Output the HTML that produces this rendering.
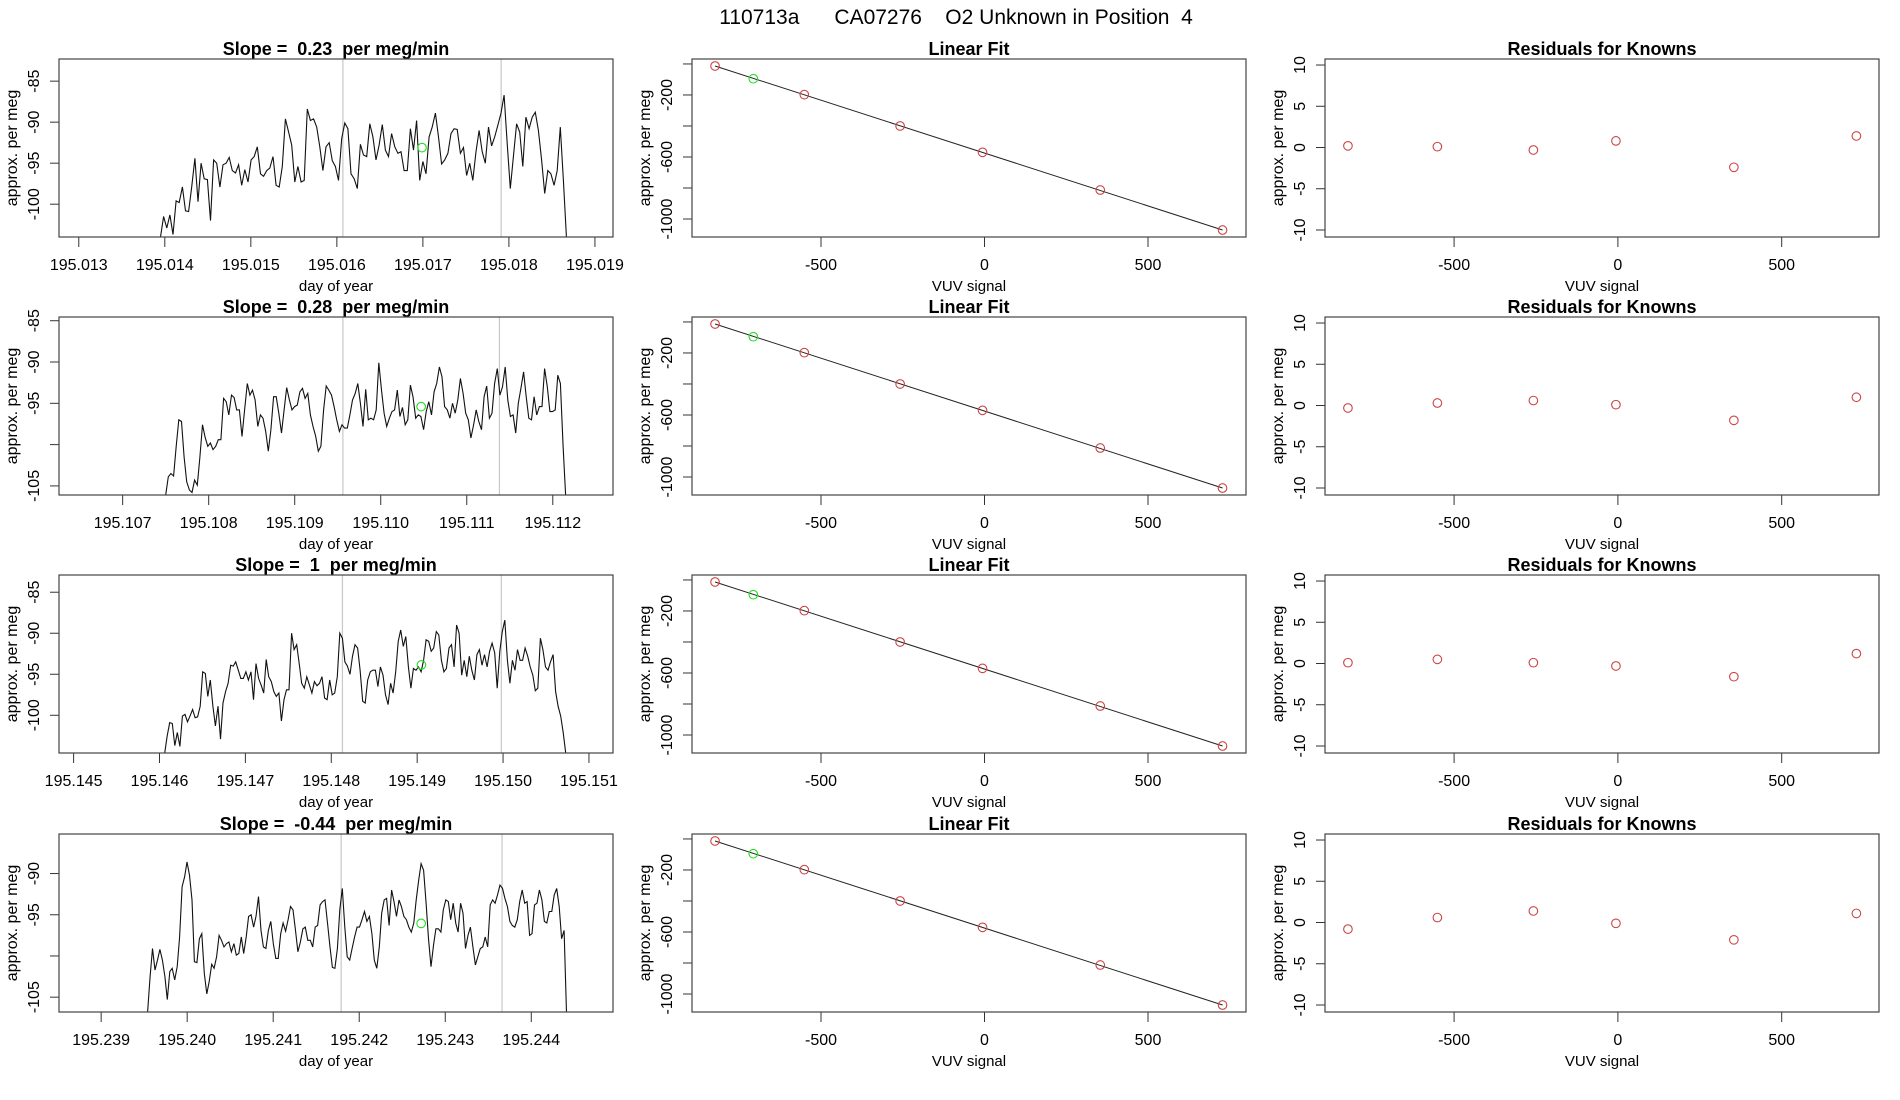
<!DOCTYPE html>
<html><head><meta charset="utf-8"><style>
html,body{margin:0;padding:0;background:#fff;}
svg{display:block;font-family:"Liberation Sans",Arial,sans-serif;}
text{white-space:pre;}
</style></head><body>
<svg id="chart" width="1900" height="1100" viewBox="0 0 1900 1100">
<text x="956" y="24" font-size="21" text-anchor="middle" xml:space="preserve">110713a      CA07276    O2 Unknown in Position  4</text>
</svg>
<script>
// ---------- data ----------
const series1 = [-104,-101.5,-102.9,-101.3,-103.7,-99.6,-99.8,-97.9,-100.8,-100.9,-97.9,-94.4,-99.7,-95.0,-96.9,-97,-102,-94.6,-95,-97.9,-95.2,-95,-94.3,-95.9,-96.2,-95.2,-97.7,-95.8,-97.3,-94.6,-94.2,-93,-96.3,-96.6,-95.9,-95.6,-94.2,-97.7,-97.9,-95.4,-89.6,-91.2,-92.8,-97.3,-95.4,-97.3,-97.1,-88.4,-89.8,-89.6,-90.6,-93,-95.9,-93,-92.5,-94.7,-95.4,-97.1,-92,-90.1,-90.8,-96.3,-96.9,-98.1,-92.7,-94,-94.2,-90.2,-91.8,-94.6,-92.8,-90.3,-93.4,-94.2,-91.4,-93,-93.8,-93.6,-95.9,-95.9,-90.8,-93.4,-89.8,-97.1,-94.8,-96.3,-91.8,-90.6,-88.9,-91.8,-95.1,-94.6,-93.8,-91.4,-90.8,-90.9,-93.8,-93.1,-96.5,-95,-97.1,-93.6,-91,-93.6,-95,-90.6,-92.9,-91.8,-90.4,-88.9,-86.7,-92.6,-98.1,-94.2,-90.2,-91.2,-95.4,-89.4,-90.8,-89.4,-88.8,-91,-94.6,-98.7,-95.9,-96.3,-97.7,-95.9,-90.6,-97.1,-104.2];
const series2 = [-106.1,-103.9,-103.5,-103.8,-100.2,-97,-97.2,-101.5,-104.5,-105.5,-105.8,-104.3,-104.9,-101.5,-97.6,-99.1,-100.2,-99.8,-100.6,-100.2,-99.4,-99.4,-94.4,-94.8,-96.4,-94,-94.3,-95.8,-95.8,-99,-95.8,-92.6,-94,-93.4,-94.6,-97.8,-96.4,-96.8,-98.4,-100.8,-98.2,-94.2,-94.2,-96.2,-98.6,-95.8,-93.1,-94.6,-95.8,-95.4,-95.2,-93.6,-93.2,-94.4,-93.8,-96.4,-97.8,-99,-100.8,-100.2,-95.8,-92.9,-93.4,-94,-95.4,-97,-98.4,-97.6,-98,-98,-96.4,-94.6,-93.8,-92.6,-95,-97.8,-93.3,-97,-96.8,-97,-95.8,-90.1,-93.4,-96.2,-97.8,-96.8,-96,-95.8,-93.4,-96.6,-95.5,-97.6,-97,-92.8,-94.2,-96.8,-96.4,-96.6,-98.2,-96,-94.8,-96.4,-93.6,-92.6,-90.6,-91.8,-95.4,-95.8,-96.8,-95,-96.2,-94.6,-92,-93.8,-96.2,-97,-99.2,-97.6,-95.8,-97.2,-98.2,-94.2,-92.9,-96.8,-96.2,-92.6,-90.8,-94,-93,-90.6,-94.6,-96.6,-96.4,-98.6,-95,-93.2,-91.2,-94.2,-96.8,-97,-94.2,-96.4,-95.4,-95.4,-90.8,-93,-96,-96,-95.8,-91.6,-92.6,-100.2,-106.3];
const series3 = [-104.7,-102.5,-100.9,-101,-103.7,-102.1,-103.8,-100.1,-99.9,-100.8,-100.1,-99.3,-100.3,-100.2,-98.9,-94.7,-94.9,-97.7,-95.7,-98.9,-101.3,-98.9,-102.9,-98.5,-97.1,-96.1,-93.9,-94,-93.5,-94.5,-95.5,-95.5,-94.7,-95.7,-94.7,-98.1,-93.7,-95.5,-96.3,-97.3,-93.2,-95.3,-95.9,-97.1,-97.7,-97.3,-100.7,-98.1,-96.9,-96.9,-90,-92,-91.4,-93.7,-96.1,-96.7,-95.3,-96.3,-97.3,-95.9,-96.4,-96.1,-95.3,-97.9,-98.1,-95.7,-97.5,-97.3,-95.3,-90,-90.6,-93.5,-94,-95,-92.8,-91.4,-91.8,-94.5,-98.3,-98.5,-95.7,-94.7,-94.5,-94.5,-96.5,-94.1,-95.1,-97.5,-98.7,-96.1,-97.3,-94.7,-91,-89.6,-91.6,-90.4,-94.1,-96.7,-94.3,-94.5,-94.1,-94.7,-93.3,-90.8,-91,-92.2,-91.8,-89.8,-90.2,-93.3,-94.7,-94.3,-91.8,-91.4,-94.1,-89,-90,-95.1,-93.3,-95.3,-92.8,-94.5,-95.7,-92.6,-92,-93.9,-92.6,-94.1,-92.2,-91.2,-92.4,-96.7,-92.2,-89.8,-88.4,-93.3,-96.1,-93.3,-94.5,-92,-93.3,-93.3,-91.8,-92.8,-94.1,-95.1,-97,-96.7,-90.6,-92,-94.1,-94.5,-93.5,-92.6,-97.1,-98.9,-100.1,-102.1,-104.7];
const series4 = [-106.8,-102.5,-99.1,-101.7,-100.5,-99.2,-100.5,-102.5,-105.3,-101.9,-101.5,-102.9,-101.3,-97.7,-91.6,-90.4,-88.6,-90.2,-93.2,-100.7,-100.8,-97.9,-97.3,-102.1,-104.6,-103.1,-101,-101.5,-100.1,-97.5,-98.1,-98.9,-98.5,-98.3,-99.5,-98.5,-99.9,-99.7,-97.7,-99.7,-97.7,-95.2,-95,-96.5,-95.2,-92.8,-96.9,-98.9,-99.1,-96.9,-95.8,-98.5,-100.3,-100.3,-97.3,-96,-97,-95.6,-94,-94.4,-96.9,-99.5,-98.3,-96.7,-96.5,-98.1,-98.1,-98.9,-96.5,-96.3,-93.8,-93.4,-93.2,-96,-98.9,-101.4,-101.5,-99.1,-94.4,-91.8,-96.5,-100.1,-100.5,-99.1,-97.7,-96.5,-96.5,-95.6,-94.6,-95.8,-95.2,-97.3,-100.5,-101.5,-98.9,-94.8,-93.2,-93,-96.3,-92,-93.4,-95.2,-93.2,-94,-95.2,-95.6,-96.5,-97.1,-96,-93.2,-90.8,-88.8,-89.6,-93.6,-97.9,-101.3,-98.7,-96.7,-96.7,-97.1,-94.4,-93.2,-93.4,-95.6,-93.6,-96,-97.1,-93.6,-94.8,-99.1,-97.5,-96.5,-98.9,-101.1,-100.1,-99.1,-98.9,-97.7,-98.9,-93.8,-93.2,-93.6,-92.6,-91.4,-91.8,-93,-94,-95.8,-96.3,-96.5,-95.6,-93.4,-92,-93.6,-93.4,-97.5,-97.3,-93.8,-93.6,-92,-93.2,-95.8,-96,-94.6,-94.6,-92.6,-91.8,-94,-97.9,-96.9,-106.9];
const seriesStart = [195.01395, 195.10750, 195.14606, 195.23954];
const seriesEnd = [195.01867, 195.11215, 195.15073, 195.24441];
const greenDay = [195.01699, 195.11047, 195.14905, 195.24272];
const greenVal = [-93.1, -95.4, -93.86, -96.05];
const grayLine1 = [195.01607, 195.10956, 195.14813, 195.24179];
const grayLine2 = [195.01791, 195.11138, 195.14998, 195.24366];
const slopeLabels = ["0.23", "0.28", "1", "-0.44"];
const xTickLabels = [
  ["195.013","195.014","195.015","195.016","195.017","195.018","195.019"],
  ["195.107","195.108","195.109","195.110","195.111","195.112"],
  ["195.145","195.146","195.147","195.148","195.149","195.150","195.151"],
  ["195.239","195.240","195.241","195.242","195.243","195.244"]];
const yTicks = [[-85,-90,-95,-100],[-85,-90,-95,-100,-105],[-85,-90,-95,-100],[-90,-95,-100,-105]];
const yTickLabels = [["-85","-90","-95","-100"],["-85","-90","-95","","-105"],["-85","-90","-95","-100"],["-90","-95","","-105"]];
const fitX = [-824, -551, -258, -6, 354, 728];
const fitY = [-13, -198, -400, -570, -813, -1071];
const unkX = -707;
const unkY = -95;
const resid1 = [0.2, 0.1, -0.3, 0.8, -2.4, 1.4];
const resid2 = [-0.3, 0.3, 0.6, 0.1, -1.8, 1.0];
const resid3 = [0.1, 0.5, 0.1, -0.3, -1.6, 1.2];
const resid4 = [-0.8, 0.6, 1.4, -0.1, -2.1, 1.1];
const fitTicksX = [-500, 0, 500];
const fitTicksY = [0, -200, -400, -600, -800, -1000];
const fitTickLabelsY = ["", "-200", "", "-600", "", "-1000"];
const resTicksY = [10, 5, 0, -5, -10];

// ---------- layout ----------
const allSeries = [series1, series2, series3, series4];
const allResid = [resid1, resid2, resid3, resid4];
const rowTop = [59, 317, 575, 834];
const PH = 178;
const xLims = [[195.01277,195.01921],[195.10626,195.1127],[195.14483,195.15128],[195.23851,195.24495]];
const yLims = [[-104.0,-82.3],[-106.1,-84.55],[-104.6,-82.9],[-106.8,-85.2]];
const cols = [{l:59,r:613},{l:692,r:1246},{l:1325,r:1879}];
const fitXLim = [-894.5, 799.7], fitYLim = [-1116, 32];
const resXLim = [-894, 797], resYLim = [-10.85, 10.73];
const NS = "http://www.w3.org/2000/svg";
const svg = document.getElementById('chart');
function mk(tag, attrs, parent) {
  const e = document.createElementNS(NS, tag);
  for (const k in attrs) e.setAttribute(k, attrs[k]);
  (parent || svg).appendChild(e);
  return e;
}
function scale(d0, d1, r0, r1) { return v => r0 + (v - d0) / (d1 - d0) * (r1 - r0); }
function txt(x, y, s, size, opts, parent) {
  const t = mk('text', Object.assign({x:x, y:y, 'font-size':size, 'text-anchor':'middle'}, opts || {}), parent);
  t.setAttributeNS('http://www.w3.org/XML/1998/namespace', 'xml:space', 'preserve');
  t.textContent = s;
  return t;
}

function panel(row, col, title, xlabel) {
  const g = mk('g', {});
  
  
  const L = cols[col].l, R = cols[col].r, T = rowTop[row], B = T + PH;
  const cid = 'clip' + row + '_' + col;
  const cp = mk('clipPath', {id: cid}, g);
  mk('rect', {x:L, y:T, width:R-L, height:PH}, cp);
  const tt = txt((L+R)/2, T - 4, title, 18, {'font-weight':'bold'}, g);
  
  
  const xl = txt((L+R)/2, B + 54, xlabel, 15, {}, g);
  
  
  const yl = txt(0, 0, 'approx. per meg', 16, {transform: 'translate(' + (L - 42) + ',' + (T + PH/2) + ') rotate(-90)'}, g);
  
  
  return {g, L, R, T, B, cid};
}
function xAxis(p, ticks, labels, sx) {
  ticks.forEach((v, i) => {
    const x = sx(v);
    mk('line', {x1:x, x2:x, y1:p.B, y2:p.B+10, stroke:'#333', 'stroke-width':1}, p.g);
    const t = txt(x, p.B + 33, labels[i], 16, {}, p.g);
    
    
  });
}
function yAxis(p, ticks, labels, sy) {
  ticks.forEach((v, i) => {
    const y = sy(v);
    mk('line', {x1:p.L-9, x2:p.L, y1:y, y2:y, stroke:'#333', 'stroke-width':1}, p.g);
    if (labels[i] !== '') {
      const t = txt(0, 0, labels[i], 16, {transform:'translate(' + (p.L - 20) + ',' + y + ') rotate(-90)'}, p.g);
      
      
    }
  });
}
function box(p) {
  const b = mk('rect', {x:p.L, y:p.T, width:p.R-p.L, height:PH, fill:'none', stroke:'#444', 'stroke-width':1.2}, p.g);
  
  
}
function circle(p, x, y, color, name) {
  const c = mk('circle', {cx:x, cy:y, r:4.3, fill:'none', stroke:color, 'stroke-width':1.1}, p.g);
  
  
}

for (let r = 0; r < 4; r++) {
  // ----- time series panel -----
  let p = panel(r, 0, 'Slope =  ' + slopeLabels[r] + '  per meg/min', 'day of year');
  const sx = scale(xLims[r][0], xLims[r][1], p.L, p.R);
  const sy = scale(yLims[r][0], yLims[r][1], p.B, p.T);
  [grayLine1[r], grayLine2[r]].forEach(d => {
    const gl = mk('line', {x1:sx(d), x2:sx(d), y1:p.T, y2:p.B, stroke:'#c8c8c8', 'stroke-width':1.2}, p.g);
    
    
  });
  const s = allSeries[r];
  const n = s.length;
  const pts = s.map((v, i) => {
    const d = seriesStart[r] + (seriesEnd[r] - seriesStart[r]) * i / (n - 1);
    return sx(d).toFixed(1) + ',' + sy(v).toFixed(1);
  }).join(' ');
  const pl = mk('polyline', {points:pts, fill:'none', stroke:'#111', 'stroke-width':1.1, 'clip-path':'url(#' + p.cid + ')'}, p.g);
  
  
  circle(p, sx(greenDay[r]), sy(greenVal[r]), '#22dd22', 'unknown-point');
  const xt = xTickLabels[r].map(v => parseFloat(v));
  xAxis(p, xt, xTickLabels[r], sx);
  yAxis(p, yTicks[r], yTickLabels[r], sy);
  box(p);

  // ----- linear fit panel -----
  p = panel(r, 1, 'Linear Fit', 'VUV signal');
  const fx = scale(fitXLim[0], fitXLim[1], p.L, p.R);
  const fy = scale(fitYLim[0], fitYLim[1], p.B, p.T);
  const n0 = 0, n1 = fitX.length - 1;
  const fl = mk('line', {x1:fx(fitX[n0]), y1:fy(fitY[n0]), x2:fx(fitX[n1]), y2:fy(fitY[n1]), stroke:'#222', 'stroke-width':1}, p.g);
  
  
  fitX.forEach((v, i) => circle(p, fx(v), fy(fitY[i]), '#cc4444', 'known-point'));
  circle(p, fx(unkX), fy(unkY), '#22dd22', 'unknown-point');
  xAxis(p, fitTicksX, fitTicksX.map(String), fx);
  yAxis(p, fitTicksY, fitTickLabelsY, fy);
  box(p);

  // ----- residual panel -----
  p = panel(r, 2, 'Residuals for Knowns', 'VUV signal');
  const rx = scale(resXLim[0], resXLim[1], p.L, p.R);
  const ry = scale(resYLim[0], resYLim[1], p.B, p.T);
  allResid[r].forEach((v, i) => circle(p, rx(fitX[i]), ry(v), '#cc4444', 'residual-point'));
  xAxis(p, fitTicksX, fitTicksX.map(String), rx);
  yAxis(p, resTicksY, resTicksY.map(String), ry);
  box(p);
}
</script>
</body></html>
